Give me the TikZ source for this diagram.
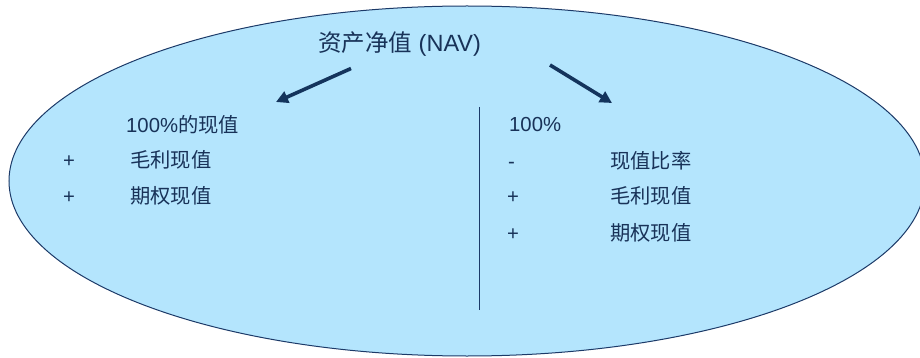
\documentclass[tikz,border=0pt]{standalone}
\usepackage{fontspec}
\setmainfont{Liberation Sans}
\newfontfamily\cjk{Noto Sans CJK SC}
\usetikzlibrary{arrows.meta}
\definecolor{fillc}{RGB}{180,229,253}
\definecolor{edgec}{RGB}{28,58,104}
\definecolor{textc}{RGB}{24,50,88}
\definecolor{arrowc}{RGB}{20,52,92}
\tikzset{
  lbl/.style={anchor=base west, inner sep=0pt, text=textc, font=\fontsize{20.3}{24}\selectfont},
  ttl/.style={anchor=base west, inner sep=0pt, text=textc, font=\fontsize{23.5}{28}\selectfont},
  bigarrow/.style={draw=arrowc, line width=3.6pt, -{Triangle[length=12pt,width=12pt]}},
  divider/.style={draw=edgec, line width=1pt}
}
\begin{document}
\begin{tikzpicture}[x=1pt,y=-1pt]
\useasboundingbox (0,0) rectangle (920,358);
\begin{scope}
\clip (0,0) rectangle (920,358);
\draw[fill=fillc, draw=edgec, line width=1pt] (467,181) ellipse [x radius=458, y radius=175];
\end{scope}
\node[ttl] (title) at (318,51.5) {{\cjk 资产净值} (NAV)};
\coordinate (la1) at (351,68.5);
\coordinate (la2) at (276,102);
\coordinate (ra1) at (550,65);
\coordinate (ra2) at (612,103);
\draw[bigarrow] (la1) -- (la2);
\draw[bigarrow] (ra1) -- (ra2);
\coordinate (v1) at (479.5,107);
\coordinate (v2) at (479.5,310);
\draw[divider] (v1) -- (v2);
% left column
\node[lbl] (l0) at (126,132.5) {100\%{\cjk 的现值}};
\node[lbl] (lp1) at (63,167.5) {+};
\node[lbl] (l1) at (130,167.5) {\cjk 毛利现值};
\node[lbl] (lp2) at (63,203.5) {+};
\node[lbl] (l2) at (130,203.5) {\cjk 期权现值};
% right column
\node[lbl] (r0) at (509,132) {100\%};
\node[lbl] (rm) at (508,168) {-};
\node[lbl] (r1) at (610,168) {\cjk 现值比率};
\node[lbl] (rp1) at (507,204) {+};
\node[lbl] (r2) at (610,204) {\cjk 毛利现值};
\node[lbl] (rp2) at (507,240) {+};
\node[lbl] (r3) at (610,240) {\cjk 期权现值};
\end{tikzpicture}
\end{document}
